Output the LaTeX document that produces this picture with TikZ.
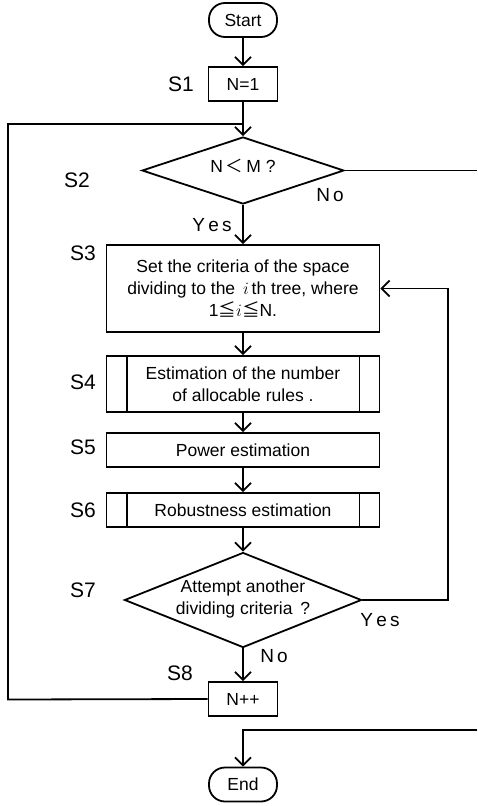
\documentclass[tikz,border=0pt]{standalone}
\usepackage{fontspec}
\setmainfont{Liberation Sans}
\newfontfamily\cjk{Noto Sans CJK JP}
\usetikzlibrary{shapes.geometric,arrows.meta}
\begin{document}
\begin{tikzpicture}[x=1pt,y=-1pt, line width=1.8pt,
 font=\fontsize{17.5}{22}\selectfont,
 term/.style={draw, rounded corners=16pt, minimum width=68pt, minimum height=34pt, inner sep=0pt},
 proc/.style={draw, minimum width=273pt, inner sep=0pt, align=center},
 small/.style={draw, minimum width=69pt, minimum height=34pt, inner sep=0pt},
 dec/.style={draw, diamond, inner sep=0pt, aspect=2.5},
 lab/.style={font=\fontsize{21}{24}\selectfont},
 yn/.style={font=\fontsize{19}{22}\selectfont},
 arr/.style={-{Straight Barb[length=8pt,width=16pt]}}]
\useasboundingbox (0,0) rectangle (477,806);

\node[term] (start) at (243,20) {Start};
\node[small] (s1) at (243,84) {N=1};
\node[dec, minimum width=202pt, minimum height=67pt] (s2) at (243,170.5) {};
\node (t2) at (243,166) {N\,{\cjk ＜}\,M ?};
\node[proc, minimum height=87pt] (s3) at (243,288.5) {Set the criteria of the space\\dividing to the \,$i$\,th tree, where\\1{\cjk ≦}$i${\cjk ≦}N.};
\node[proc, minimum height=56pt] (s4) at (243,384) {Estimation of the number\\of allocable rules .};
\node[proc, minimum height=34pt] (s5) at (243,450) {Power estimation};
\node[proc, minimum height=34pt] (s6) at (243,510) {Robustness estimation};
\node[dec, minimum width=237pt, minimum height=95pt] (s7) at (243,600) {};
\node[align=center] (t7) at (243,599) {Attempt another\\dividing criteria \,?};
\node[small] (s8) at (243,699) {N++};
\node[term] (end) at (243,784.5) {End};

\draw ([xshift=21pt]s4.north west) -- ([xshift=21pt]s4.south west);
\draw ([xshift=-21pt]s4.north east) -- ([xshift=-21pt]s4.south east);
\draw ([xshift=21pt]s6.north west) -- ([xshift=21pt]s6.south west);
\draw ([xshift=-21pt]s6.north east) -- ([xshift=-21pt]s6.south east);

\node[lab] (l1) at (181,84) {S1};
\node[lab] (l2) at (77,180) {S2};
\node[lab] (l3) at (83,253) {S3};
\node[lab] (l4) at (83,382) {S4};
\node[lab] (l5) at (83,447) {S5};
\node[lab] (l6) at (83,510) {S6};
\node[lab] (l7) at (83,590) {S7};
\node[lab] (l8) at (180,673) {S8};

\node[yn] (no1) at (330,195) {N\,o};
\node[yn] (yes1) at (212,225) {Y\,e\,s};
\node[yn] (yes2) at (380,620) {Y\,e\,s};
\node[yn] (no2) at (274,656) {N\,o};

\coordinate (j1) at (243,124);
\coordinate (lt) at (8,124);
\coordinate (lb) at (8,699.5);
\coordinate (r1) at (477,170.5);
\coordinate (r2) at (477,730);
\coordinate (r3) at (243,730);
\coordinate (y1) at (448,600);
\coordinate (y2) at (448,288.5);

\draw[arr] (start) -- (s1);
\draw[arr] (s1) -- (s2);
\draw[arr] (s2) -- (s3);
\draw[arr] (s3) -- (s4);
\draw[arr] (s4) -- (s5);
\draw[arr] (s5) -- (s6);
\draw[arr] (s6) -- (s7);
\draw[arr] (s7) -- (s8);
\draw (s8.west) -- (lb) -- (lt) -- (j1);
\draw (s2.east) -- (r1);
\draw[arr] (r2) -- (r3) -- (end);
\draw[arr] (s7.east) -- (y1) -- (y2) -- (s3.east);
\end{tikzpicture}
\end{document}
